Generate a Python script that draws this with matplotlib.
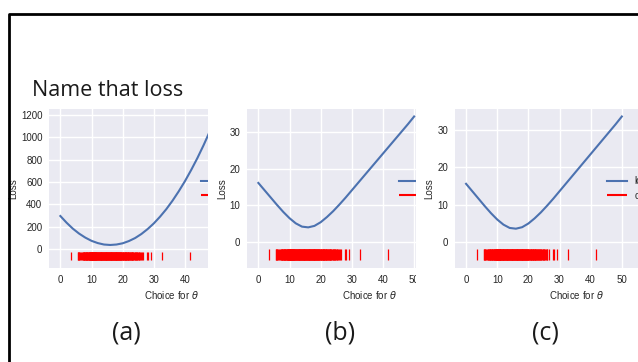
import matplotlib
matplotlib.use("Agg")
import matplotlib.pyplot as plt
from matplotlib.patches import Rectangle
from matplotlib.lines import Line2D

# ---------------- data ----------------
theta = [0, 2, 4, 6, 8, 10, 12, 14, 16, 18, 20, 22, 24, 26, 28, 30,
         32, 34, 36, 38, 40, 42, 44, 46, 48, 50]

loss_squared = [297, 237, 184, 140, 104, 75, 55, 42, 38, 42, 53, 73, 100,
                136, 180, 231, 291, 358, 434, 518, 609, 709, 816, 932,
                1056, 1187]

loss_absolute = [16.1, 14.1, 12.1, 10.1, 8.2, 6.5, 5.1, 4.2, 4.0, 4.4, 5.4,
                 6.8, 8.4, 10.2, 12.1, 14.1, 16.1, 18.1, 20.1, 22.1, 24.1,
                 26.1, 28.1, 30.1, 32.1, 34.2]

loss_huber = [15.6, 13.6, 11.6, 9.6, 7.7, 6.0, 4.62, 3.73, 3.53, 3.93, 4.92,
              6.3, 7.9, 9.7, 11.6, 13.6, 15.6, 17.6, 19.6, 21.6, 23.6, 25.6,
              27.6, 29.6, 31.6, 33.7]

pct_tip = [3.56, 5.64, 5.68, 5.94, 6.04, 6.35, 6.75, 6.92, 7.18, 7.32, 7.46,
           7.56, 7.68, 7.81, 7.95, 8.09, 8.21, 8.33, 8.45, 8.58, 8.71, 8.82,
           8.92, 9.06, 9.17, 9.27, 9.36, 9.45, 9.54, 9.62, 9.71, 9.79, 9.86,
           9.93, 10.0, 10.07, 10.15, 10.24, 10.31, 10.38, 10.47, 10.55, 10.62,
           10.69, 10.76, 10.82, 10.9, 10.97, 11.05, 11.1, 11.2, 11.3, 11.4,
           11.5, 11.6, 11.7, 11.8, 11.9, 12.0, 12.1, 12.2, 12.3, 12.4, 12.5,
           12.6, 12.7, 12.8, 12.9, 13.0, 13.1, 13.2, 13.3, 13.4, 13.5, 13.6,
           13.7, 13.8, 13.9, 14.0, 14.1, 14.2, 14.3, 14.4, 14.5, 14.6, 14.7,
           14.8, 14.9, 15.0, 15.1, 15.2, 15.3, 15.4, 15.5, 15.6, 15.7, 15.8,
           15.9, 16.0, 16.1, 16.2, 16.3, 16.4, 16.5, 16.6, 16.7, 16.8, 16.9,
           17.0, 17.1, 17.2, 17.3, 17.4, 17.5, 17.6, 17.7, 17.8, 17.9, 18.0,
           18.1, 18.2, 18.3, 18.4, 18.5, 18.6, 18.7, 18.8, 18.9, 19.0, 19.12,
           19.24, 19.35, 19.47, 19.6, 19.72, 19.84, 19.95, 20.04, 20.18, 20.32,
           20.45, 20.59, 20.71, 20.83, 20.95, 21.07, 21.2, 21.35, 21.47, 21.6,
           21.72, 21.86, 22.0, 22.13, 22.27, 22.42, 22.58, 22.73, 22.86, 23.0,
           23.13, 23.28, 23.45, 23.64, 23.8, 24.0, 24.17, 24.35, 24.55, 24.74,
           24.9, 25.1, 25.35, 25.6, 25.85, 26.1, 26.63, 27.95, 28.07, 29.2,
           32.57, 41.67, 71.03]

rug_low = [-100, -5, -5]
rug_high = [-25, -2, -2]

panel_labels = ["(a)", "(b)", "(c)"]
series_labels = ["loss", "observations"]
slide_title = "Name that loss"
x_label = r"Choice for $\theta$"
y_label = "Loss"

x_ticks = [0, 10, 20, 30, 40, 50, 60, 70]
y_ticks = [[0, 200, 400, 600, 800, 1000, 1200], [0, 10, 20, 30], [0, 10, 20, 30]]
losses = [loss_squared, loss_absolute, loss_huber]

# ---------------- figure ----------------
W, H = 638, 362
plt.rcParams["font.family"] = ["Liberation Sans", "DejaVu Sans"]
fig = plt.figure(figsize=(W / 100, H / 100), dpi=100)
fig.patch.set_facecolor("white")

axes_left = [49.3, 247.3, 455.0]
axes_top, axes_w, axes_h = 109.3, 243.4, 158.3
text_col = "#262626"

for i in range(3):
    ax = fig.add_axes([axes_left[i] / W, 1 - (axes_top + axes_h) / H,
                       axes_w / W, axes_h / H])
    ax.set_zorder(1 + 2 * i)
    ax.set_facecolor("#EAEAF2")
    for s in ax.spines.values():
        s.set_visible(False)
    ax.grid(True, color="white", linewidth=1.0)
    ax.set_axisbelow(True)
    ax.tick_params(length=0, pad=5, labelsize=7, colors=text_col)
    ax.plot(theta, losses[i], color="#4C72B0", linewidth=1.5,
            label=series_labels[0])
    ax.vlines(pct_tip, rug_low[i], rug_high[i], colors="red",
              linewidth=0.9, label=series_labels[1])
    ax.set_xticks(x_ticks)
    ax.set_yticks(y_ticks[i])
    ax.set_xlabel(x_label, fontsize=7, color=text_col, labelpad=3)
    ax.set_ylabel(y_label, fontsize=7, color=text_col, labelpad=2)
    leg = ax.legend(loc="center right", frameon=False, fontsize=7)
    for t in leg.get_texts():
        t.set_color(text_col)
    for h in leg.legend_handles:
        h.set_linewidth(1.5)

# white masks that crop picture (a) at x=208 and picture (b) at x=416
for i, xcut in enumerate([208, 416]):
    r = Rectangle((xcut / W, 1 - 306 / H), 1.0, (306 - 97) / H,
                  transform=fig.transFigure, facecolor="white",
                  edgecolor="none", zorder=2 + 2 * i)
    fig.add_artist(r)

# slide decoration
fig.add_artist(Line2D([8.5 / W, 8.5 / W, 1.01], [-0.01, 1 - 13.5 / H, 1 - 13.5 / H],
                      transform=fig.transFigure, color="black", linewidth=2,
                      zorder=10))
fig.text(32 / W, 1 - 95.7 / H, slide_title, fontsize=15.5,
         family=["Open Sans", "DejaVu Sans"], va="baseline", ha="left",
         color="#1a1a1a", zorder=10)
label_x = [126, 340, 545]
for lx, lab in zip(label_x, panel_labels):
    fig.text(lx / W, 1 - 333 / H, lab, fontsize=18,
             family=["Open Sans", "DejaVu Sans"], va="center", ha="center",
             color="#1a1a1a", zorder=10)

fig.savefig("out.png", dpi=100, facecolor="white")
